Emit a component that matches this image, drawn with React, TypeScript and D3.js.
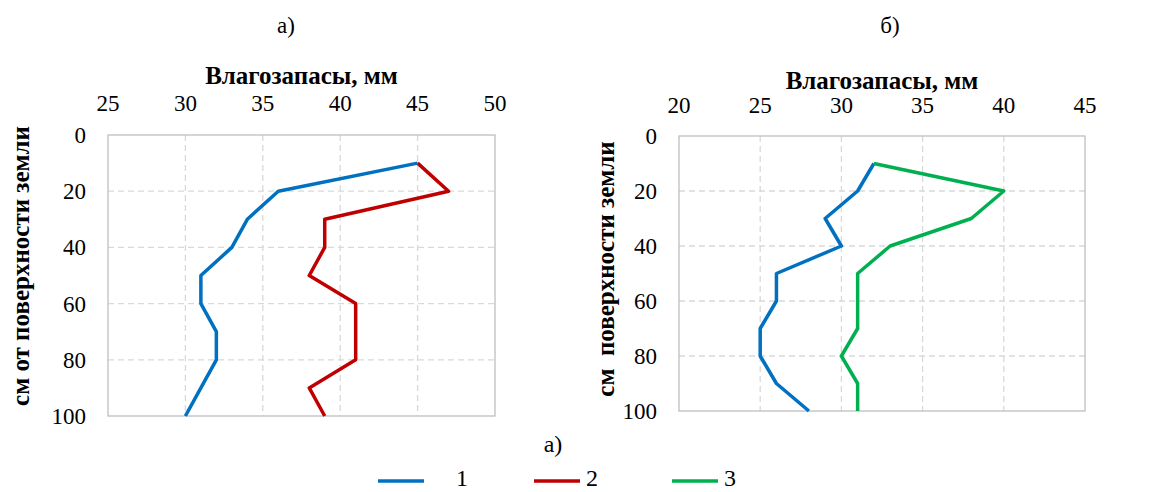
import React from 'react';
import * as d3 from 'd3';

const depths = [10, 20, 30, 40, 50, 60, 70, 80, 90, 100];
const yTicks = [0, 20, 40, 60, 80, 100];

// a)
const leftXTicks = [25, 30, 35, 40, 45, 50];
const leftSeries1 = [45, 36, 34, 33, 31, 31, 32, 32, 31, 30];
const leftSeries2 = [45, 47, 39, 39, 38, 41, 41, 41, 38, 39];

// б)
const rightXTicks = [20, 25, 30, 35, 40, 45];
const rightSeries1 = [32, 31, 29, 30, 26, 26, 25, 25, 26, 28];
const rightSeries3 = [32, 40, 38, 33, 31, 31, 31, 30, 31, 31];

const legendItems = ['1', '2', '3'];
const colors = ['#0070C0', '#C00000', '#00B050'];
const FONT = "'Liberation Serif', 'Times New Roman', Times, Tinos, 'DejaVu Serif', 'Noto Serif', serif";

type Panel = {
  left: number; right: number; top: number; bottom: number;
  xTicks: number[]; series: { values: number[]; color: string }[];
  title: string; titleX: number; axisTitleY: number; tickY: number;
  yTitle: string; yTitleX: number; yTitleCY: number;
};

const Chart = ({ p }: { p: Panel }) => {
  const x = d3.scaleLinear().domain([p.xTicks[0], p.xTicks[p.xTicks.length - 1]]).range([p.left, p.right]);
  const y = d3.scaleLinear().domain([0, 100]).range([p.top, p.bottom]);
  const line = d3.line<number>().x(d => x(d)).y((_, i) => y(depths[i]));
  const cx = (p.left + p.right) / 2;
  return (
    <g>
      <text x={p.titleX} y={33} fontSize={23} textAnchor="middle">{p.title}</text>
      {p.xTicks.map(t => (
        <text key={t} x={x(t)} y={p.tickY} fontSize={23} textAnchor="middle">{t}</text>
      ))}
      <text x={cx} y={p.axisTitleY} fontSize={25} fontWeight="bold" textAnchor="middle">Влагозапасы, мм</text>
      {yTicks.map(t => (
        <text key={t} x={p.left - 22} y={y(t) + 8} fontSize={23} textAnchor="end">{t}</text>
      ))}
      <text transform={`translate(${p.yTitleX},${p.yTitleCY}) rotate(-90)`} fontSize={25}
        fontWeight="bold" textAnchor="middle" style={{ whiteSpace: 'pre' }}>{p.yTitle}</text>
      {p.xTicks.slice(1, -1).map(t => (
        <line key={t} x1={x(t)} x2={x(t)} y1={p.top} y2={p.bottom} stroke="#d9d9d9" strokeWidth={1.3} strokeDasharray="6,4" />
      ))}
      {yTicks.slice(1, -1).map(t => (
        <line key={t} x1={p.left} x2={p.right} y1={y(t)} y2={y(t)} stroke="#d9d9d9" strokeWidth={1.3} strokeDasharray="6,4" />
      ))}
      <rect x={p.left} y={p.top} width={p.right - p.left} height={p.bottom - p.top} fill="none" stroke="#bfbfbf" strokeWidth={1.3} />
      {p.series.map((s, i) => (
        <path key={i} d={line(s.values) || ''} fill="none" stroke={s.color} strokeWidth={3.5} strokeLinejoin="round" />
      ))}
    </g>
  );
};

export default function App() {
  const leftPanel: Panel = {
    left: 108, right: 495, top: 135, bottom: 416, xTicks: leftXTicks,
    series: [{ values: leftSeries2, color: colors[1] }, { values: leftSeries1, color: colors[0] }],
    title: 'а)', titleX: 286, axisTitleY: 84, tickY: 111,
    yTitle: 'см от поверхности земли', yTitleX: 29, yTitleCY: 266,
  };
  const rightPanel: Panel = {
    left: 679, right: 1085, top: 136, bottom: 411, xTicks: rightXTicks,
    series: [{ values: rightSeries1, color: colors[0] }, { values: rightSeries3, color: colors[2] }],
    title: 'б)', titleX: 890, axisTitleY: 89, tickY: 113,
    yTitle: 'см  поверхности земли', yTitleX: 614, yTitleCY: 269,
  };
  const legendX = [378, 534, 672];
  return (
    <svg width={1160} height={492} style={{ position: 'absolute', left: 0, top: 0, fontFamily: FONT }}>
      <rect width={1160} height={492} fill="#fff" />
      <Chart p={leftPanel} />
      <Chart p={rightPanel} />
      <text x={553} y={452} fontSize={24} textAnchor="middle">а)</text>
      {legendItems.map((l, i) => (
        <g key={l}>
          <line x1={legendX[i]} x2={legendX[i] + 46} y1={481} y2={481} stroke={colors[i]} strokeWidth={3.5} />
          <text x={i === 0 ? 462 : legendX[i] + 58} y={486} fontSize={24} textAnchor="middle">{l}</text>
        </g>
      ))}
    </svg>
  );
}
